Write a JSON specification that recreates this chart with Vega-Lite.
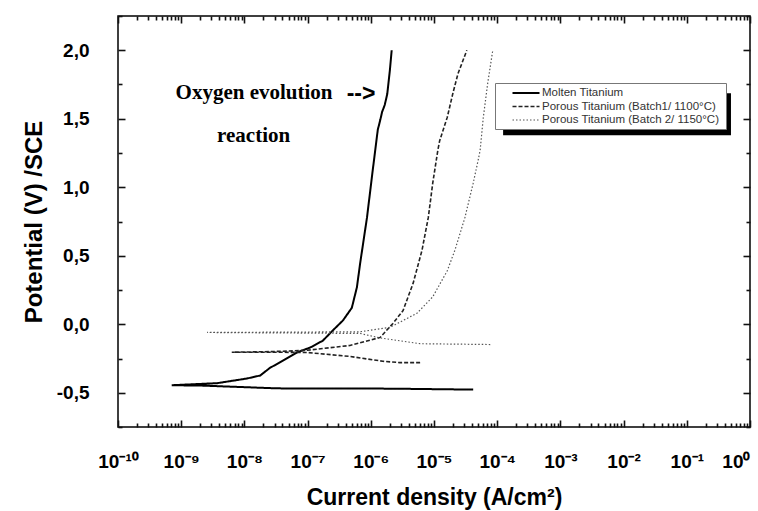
{
  "$schema": "https://vega.github.io/schema/vega-lite/v6.json",
  "width": 632,
  "height": 411,
  "autosize": {"type": "none"},
  "padding": {"left": 118, "top": 16, "right": 8, "bottom": 84},
  "background": "white",
  "config": {
    "view": {"stroke": "black", "strokeWidth": 1.5},
    "font": "Liberation Sans",
    "axis": {"domain": false, "grid": false, "ticks": true, "tickColor": "#111111", "tickWidth": 1.6, "labelOverlap": false, "labelFlush": false, "zindex": 2},
    "legend": {
      "orient": "none", "legendX": 377, "legendY": 67,
      "fillColor": "white", "strokeColor": "#777777", "padding": 3,
      "symbolType": "M-2.25,0H2.25", "symbolSize": 144, "symbolOffset": 21,
      "labelFont": "Liberation Sans", "labelFontSize": 11.5, "labelColor": "#333333",
      "labelOffset": 9, "rowPadding": 0.5, "labelLimit": 300
    }
  },
  "data": {"values": [
    {"series": "Molten Titanium", "order": 1, "current": 4.17e-5, "potential": -0.477},
    {"series": "Molten Titanium", "order": 2, "current": 2.0e-6, "potential": -0.47},
    {"series": "Molten Titanium", "order": 3, "current": 3.31e-8, "potential": -0.468},
    {"series": "Molten Titanium", "order": 4, "current": 2.19e-9, "potential": -0.448},
    {"series": "Molten Titanium", "order": 5, "current": 7.08e-10, "potential": -0.445},
    {"series": "Molten Titanium", "order": 6, "current": 3.72e-9, "potential": -0.43},
    {"series": "Molten Titanium", "order": 7, "current": 1.10e-8, "potential": -0.396},
    {"series": "Molten Titanium", "order": 8, "current": 1.78e-8, "potential": -0.374},
    {"series": "Molten Titanium", "order": 9, "current": 2.51e-8, "potential": -0.32},
    {"series": "Molten Titanium", "order": 10, "current": 4.07e-8, "potential": -0.265},
    {"series": "Molten Titanium", "order": 11, "current": 6.76e-8, "potential": -0.206},
    {"series": "Molten Titanium", "order": 12, "current": 1.10e-7, "potential": -0.17},
    {"series": "Molten Titanium", "order": 13, "current": 1.74e-7, "potential": -0.12},
    {"series": "Molten Titanium", "order": 14, "current": 2.51e-7, "potential": -0.045},
    {"series": "Molten Titanium", "order": 15, "current": 3.63e-7, "potential": 0.028},
    {"series": "Molten Titanium", "order": 16, "current": 5.01e-7, "potential": 0.12},
    {"series": "Molten Titanium", "order": 17, "current": 6.03e-7, "potential": 0.27},
    {"series": "Molten Titanium", "order": 18, "current": 6.76e-7, "potential": 0.44},
    {"series": "Molten Titanium", "order": 19, "current": 8.71e-7, "potential": 0.78},
    {"series": "Molten Titanium", "order": 20, "current": 1.07e-6, "potential": 1.12},
    {"series": "Molten Titanium", "order": 21, "current": 1.29e-6, "potential": 1.42},
    {"series": "Molten Titanium", "order": 22, "current": 1.41e-6, "potential": 1.49},
    {"series": "Molten Titanium", "order": 23, "current": 1.51e-6, "potential": 1.55},
    {"series": "Molten Titanium", "order": 24, "current": 1.66e-6, "potential": 1.6},
    {"series": "Molten Titanium", "order": 25, "current": 1.82e-6, "potential": 1.68},
    {"series": "Molten Titanium", "order": 26, "current": 2.0e-6, "potential": 1.85},
    {"series": "Molten Titanium", "order": 27, "current": 2.14e-6, "potential": 2.0},
    {"series": "Porous Titanium (Batch1/ 1100°C)", "order": 1, "current": 6.03e-6, "potential": -0.28},
    {"series": "Porous Titanium (Batch1/ 1100°C)", "order": 2, "current": 2.88e-6, "potential": -0.28},
    {"series": "Porous Titanium (Batch1/ 1100°C)", "order": 3, "current": 1.55e-6, "potential": -0.27},
    {"series": "Porous Titanium (Batch1/ 1100°C)", "order": 4, "current": 4.68e-7, "potential": -0.235},
    {"series": "Porous Titanium (Batch1/ 1100°C)", "order": 5, "current": 9.77e-8, "potential": -0.206},
    {"series": "Porous Titanium (Batch1/ 1100°C)", "order": 6, "current": 2.57e-8, "potential": -0.204},
    {"series": "Porous Titanium (Batch1/ 1100°C)", "order": 7, "current": 6.31e-9, "potential": -0.204},
    {"series": "Porous Titanium (Batch1/ 1100°C)", "order": 8, "current": 2.57e-8, "potential": -0.2},
    {"series": "Porous Titanium (Batch1/ 1100°C)", "order": 9, "current": 9.77e-8, "potential": -0.19},
    {"series": "Porous Titanium (Batch1/ 1100°C)", "order": 10, "current": 4.68e-7, "potential": -0.155},
    {"series": "Porous Titanium (Batch1/ 1100°C)", "order": 11, "current": 1.41e-6, "potential": -0.096},
    {"series": "Porous Titanium (Batch1/ 1100°C)", "order": 12, "current": 2.24e-6, "potential": 0.006},
    {"series": "Porous Titanium (Batch1/ 1100°C)", "order": 13, "current": 3.24e-6, "potential": 0.10},
    {"series": "Porous Titanium (Batch1/ 1100°C)", "order": 14, "current": 4.68e-6, "potential": 0.30},
    {"series": "Porous Titanium (Batch1/ 1100°C)", "order": 15, "current": 6.46e-6, "potential": 0.54},
    {"series": "Porous Titanium (Batch1/ 1100°C)", "order": 16, "current": 8.13e-6, "potential": 0.78},
    {"series": "Porous Titanium (Batch1/ 1100°C)", "order": 17, "current": 9.55e-6, "potential": 1.03},
    {"series": "Porous Titanium (Batch1/ 1100°C)", "order": 18, "current": 1.15e-5, "potential": 1.27},
    {"series": "Porous Titanium (Batch1/ 1100°C)", "order": 19, "current": 1.23e-5, "potential": 1.34},
    {"series": "Porous Titanium (Batch1/ 1100°C)", "order": 20, "current": 1.62e-5, "potential": 1.51},
    {"series": "Porous Titanium (Batch1/ 1100°C)", "order": 21, "current": 2.0e-5, "potential": 1.69},
    {"series": "Porous Titanium (Batch1/ 1100°C)", "order": 22, "current": 2.40e-5, "potential": 1.83},
    {"series": "Porous Titanium (Batch1/ 1100°C)", "order": 23, "current": 3.31e-5, "potential": 2.0},
    {"series": "Porous  Titanium (Batch 2/ 1150°C)", "order": 1, "current": 7.76e-5, "potential": -0.148},
    {"series": "Porous  Titanium (Batch 2/ 1150°C)", "order": 2, "current": 6.03e-6, "potential": -0.142},
    {"series": "Porous  Titanium (Batch 2/ 1150°C)", "order": 3, "current": 1.41e-6, "potential": -0.10},
    {"series": "Porous  Titanium (Batch 2/ 1150°C)", "order": 4, "current": 6.76e-7, "potential": -0.067},
    {"series": "Porous  Titanium (Batch 2/ 1150°C)", "order": 5, "current": 2.57e-9, "potential": -0.06},
    {"series": "Porous  Titanium (Batch 2/ 1150°C)", "order": 6, "current": 6.76e-7, "potential": -0.055},
    {"series": "Porous  Titanium (Batch 2/ 1150°C)", "order": 7, "current": 2.0e-6, "potential": -0.023},
    {"series": "Porous  Titanium (Batch 2/ 1150°C)", "order": 8, "current": 5.37e-6, "potential": 0.08},
    {"series": "Porous  Titanium (Batch 2/ 1150°C)", "order": 9, "current": 9.55e-6, "potential": 0.20},
    {"series": "Porous  Titanium (Batch 2/ 1150°C)", "order": 10, "current": 1.62e-5, "potential": 0.39},
    {"series": "Porous  Titanium (Batch 2/ 1150°C)", "order": 11, "current": 2.14e-5, "potential": 0.54},
    {"series": "Porous  Titanium (Batch 2/ 1150°C)", "order": 12, "current": 3.09e-5, "potential": 0.78},
    {"series": "Porous  Titanium (Batch 2/ 1150°C)", "order": 13, "current": 4.17e-5, "potential": 1.03},
    {"series": "Porous  Titanium (Batch 2/ 1150°C)", "order": 14, "current": 5.01e-5, "potential": 1.20},
    {"series": "Porous  Titanium (Batch 2/ 1150°C)", "order": 15, "current": 5.37e-5, "potential": 1.27},
    {"series": "Porous  Titanium (Batch 2/ 1150°C)", "order": 16, "current": 6.03e-5, "potential": 1.51},
    {"series": "Porous  Titanium (Batch 2/ 1150°C)", "order": 17, "current": 7.08e-5, "potential": 1.76},
    {"series": "Porous  Titanium (Batch 2/ 1150°C)", "order": 18, "current": 8.51e-5, "potential": 2.0}
  ]},
  "layer": [
    {
      "mark": {"type": "line", "interpolate": "linear"},
      "encoding": {
        "x": {
          "field": "current", "type": "quantitative",
          "scale": {"type": "log", "domain": [1e-10, 1], "nice": false},
          "axis": {
            "orient": "bottom",
            "values": [1e-10,1e-9,1e-8,1e-7,1e-6,1e-5,1e-4,1e-3,1e-2,0.1,1],
            "labelExpr": "['10⁻¹⁰','10⁻⁹','10⁻⁸','10⁻⁷','10⁻⁶','10⁻⁵','10⁻⁴','10⁻³','10⁻²','10⁻¹','10⁰'][round(log(datum.value)/LN10) + 10]",
            "labelAlign": {"condition": {"test": "datum.value > 0.5", "value": "right"}, "value": "center"},
            "tickSize": 7, "offset": -7,
            "labelFont": "Liberation Sans", "labelFontWeight": "bold", "labelFontSize": 19, "labelColor": "black",
            "labelPadding": 25,
            "title": "Current density (A/cm²)",
            "titleFont": "Liberation Sans", "titleFontWeight": "bold", "titleFontSize": 23, "titleColor": "black",
            "titlePadding": 15
          }
        },
        "y": {
          "field": "potential", "type": "quantitative",
          "scale": {"domain": [-0.75, 2.25], "nice": false, "zero": false},
          "axis": {
            "orient": "left",
            "values": [-0.5,0,0.5,1,1.5,2],
            "labelExpr": "(datum.value < 0 ? '-' : '') + replace(format(abs(datum.value), '.1f'), '.', ',')",
            "tickSize": 7, "offset": -7,
            "labelFont": "Liberation Sans", "labelFontWeight": "bold", "labelFontSize": 19, "labelColor": "black",
            "labelPadding": 29,
            "title": "Potential (V) /SCE",
            "titleFont": "Liberation Sans", "titleFontWeight": "bold", "titleFontSize": 24, "titleColor": "black",
            "titlePadding": 10
          }
        },
        "order": {"field": "order", "type": "quantitative"},
        "color": {
          "field": "series", "type": "nominal",
          "scale": {"domain": ["Molten Titanium", "Porous Titanium (Batch1/ 1100°C)", "Porous  Titanium (Batch 2/ 1150°C)"], "range": ["#000000", "#222222", "#555555"]},
          "legend": {"title": null}
        },
        "strokeDash": {
          "field": "series", "type": "nominal",
          "scale": {"domain": ["Molten Titanium", "Porous Titanium (Batch1/ 1100°C)", "Porous  Titanium (Batch 2/ 1150°C)"], "range": [[1, 0], [4, 2], [1.5, 2]]},
          "legend": {"title": null}
        },
        "strokeWidth": {
          "field": "series", "type": "nominal",
          "scale": {"domain": ["Molten Titanium", "Porous Titanium (Batch1/ 1100°C)", "Porous  Titanium (Batch 2/ 1150°C)"], "range": [2, 1.2, 1.2]},
          "legend": {"title": null}
        }
      }
    },
    {
      "mark": {"type": "line", "opacity": 0},
      "encoding": {
        "x": {"field": "current", "type": "quantitative",
          "axis": {"orient": "top", "values": [1e-10,1e-9,1e-8,1e-7,1e-6,1e-5,1e-4,1e-3,1e-2,0.1,1], "labels": false, "title": null, "tickSize": 7, "offset": -7}},
        "y": {"field": "potential", "type": "quantitative",
          "axis": {"orient": "right", "values": [-0.5,0,0.5,1,1.5,2], "labels": false, "title": null, "tickSize": 7, "offset": -7}}
      }
    },
    {
      "mark": {"type": "line", "opacity": 0},
      "encoding": {
        "x": {"field": "current", "type": "quantitative",
          "axis": {"orient": "bottom", "values": [2e-10,3e-10,4e-10,5e-10,6e-10,7e-10,8e-10,9e-10,2e-9,3e-9,4e-9,5e-9,6e-9,7e-9,8e-9,9e-9,2e-8,3e-8,4e-8,5e-8,6e-8,7e-8,8e-8,9e-8,2e-7,3e-7,4e-7,5e-7,6e-7,7e-7,8e-7,9e-7,2e-6,3e-6,4e-6,5e-6,6e-6,7e-6,8e-6,9e-6,2e-5,3e-5,4e-5,5e-5,6e-5,7e-5,8e-5,9e-5,2e-4,3e-4,4e-4,5e-4,6e-4,7e-4,8e-4,9e-4,2e-3,3e-3,4e-3,5e-3,6e-3,7e-3,8e-3,9e-3,2e-2,3e-2,4e-2,5e-2,6e-2,7e-2,8e-2,9e-2,0.2,0.3,0.4,0.5,0.6,0.7,0.8,0.9], "labels": false, "title": null, "tickSize": 4, "offset": -4}},
        "y": {"field": "potential", "type": "quantitative",
          "axis": {"orient": "left", "values": [-0.75,-0.25,0.25,0.75,1.25,1.75,2.25], "labels": false, "title": null, "tickSize": 4, "offset": -4}}
      }
    },
    {
      "mark": {"type": "line", "opacity": 0},
      "encoding": {
        "x": {"field": "current", "type": "quantitative",
          "axis": {"orient": "top", "values": [2e-10,3e-10,4e-10,5e-10,6e-10,7e-10,8e-10,9e-10,2e-9,3e-9,4e-9,5e-9,6e-9,7e-9,8e-9,9e-9,2e-8,3e-8,4e-8,5e-8,6e-8,7e-8,8e-8,9e-8,2e-7,3e-7,4e-7,5e-7,6e-7,7e-7,8e-7,9e-7,2e-6,3e-6,4e-6,5e-6,6e-6,7e-6,8e-6,9e-6,2e-5,3e-5,4e-5,5e-5,6e-5,7e-5,8e-5,9e-5,2e-4,3e-4,4e-4,5e-4,6e-4,7e-4,8e-4,9e-4,2e-3,3e-3,4e-3,5e-3,6e-3,7e-3,8e-3,9e-3,2e-2,3e-2,4e-2,5e-2,6e-2,7e-2,8e-2,9e-2,0.2,0.3,0.4,0.5,0.6,0.7,0.8,0.9], "labels": false, "title": null, "tickSize": 4, "offset": -4}},
        "y": {"field": "potential", "type": "quantitative",
          "axis": {"orient": "right", "values": [-0.75,-0.25,0.25,0.75,1.25,1.75,2.25], "labels": false, "title": null, "tickSize": 4, "offset": -4}}
      }
    },
    {
      "data": {"values": [{}]},
      "mark": {"type": "rect", "color": "black"},
      "encoding": {
        "x": {"datum": 1.24e-4, "type": "quantitative", "axis": null},
        "x2": {"datum": 0.5},
        "y": {"datum": 1.687, "type": "quantitative", "axis": null},
        "y2": {"datum": 1.38}
      }
    },
    {
      "data": {"values": [{}]},
      "mark": {"type": "text", "text": "Oxygen evolution", "font": "Liberation Serif", "fontWeight": "bold", "fontSize": 21, "align": "center", "baseline": "alphabetic", "color": "black"},
      "encoding": {
        "x": {"datum": 1.42e-8, "type": "quantitative", "axis": null},
        "y": {"datum": 1.643, "type": "quantitative", "axis": null}
      }
    },
    {
      "data": {"values": [{}]},
      "mark": {"type": "text", "text": "reaction", "font": "Liberation Serif", "fontWeight": "bold", "fontSize": 21, "align": "center", "baseline": "alphabetic", "color": "black"},
      "encoding": {
        "x": {"datum": 1.40e-8, "type": "quantitative", "axis": null},
        "y": {"datum": 1.331, "type": "quantitative", "axis": null}
      }
    },
    {
      "data": {"values": [{}]},
      "mark": {"type": "text", "text": "-->", "font": "Liberation Sans", "fontWeight": "bold", "fontSize": 23, "align": "center", "baseline": "alphabetic", "color": "black"},
      "encoding": {
        "x": {"datum": 7.0e-7, "type": "quantitative", "axis": null},
        "y": {"datum": 1.632, "type": "quantitative", "axis": null}
      }
    }
  ],
  "resolve": {"axis": {"x": "independent", "y": "independent"}}
}
